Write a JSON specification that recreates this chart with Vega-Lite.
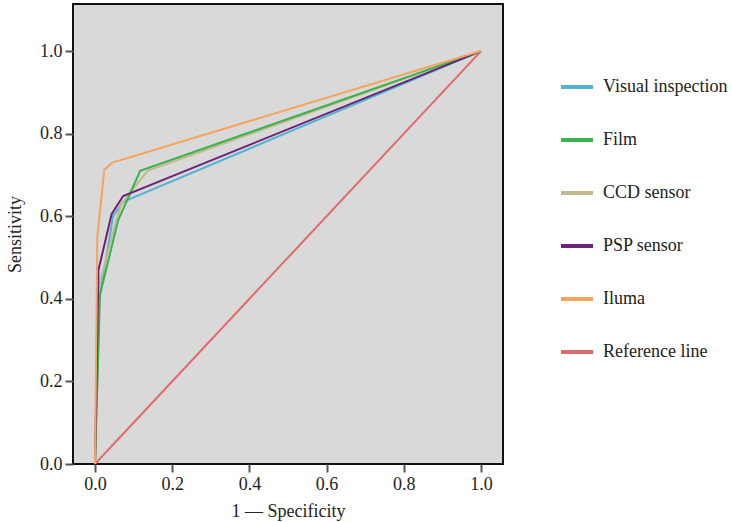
{
  "$schema": "https://vega.github.io/schema/vega-lite/v6.json",
  "width": 430,
  "height": 460,
  "autosize": {"type": "none"},
  "padding": {"left": 73, "top": 4, "right": 229, "bottom": 58},
  "background": "white",
  "config": {
    "view": {"fill": "#d9d9d9", "stroke": "#111111", "strokeWidth": 2},
    "font": "Liberation Serif",
    "axis": {
      "labelFont": "Liberation Serif",
      "titleFont": "Liberation Serif",
      "labelFontSize": 18,
      "titleFontSize": 18,
      "titleFontWeight": "normal",
      "labelColor": "#222222",
      "titleColor": "#222222",
      "domain": false,
      "grid": false,
      "tickColor": "#555555",
      "tickWidth": 2,
      "tickSize": 8,
      "labelPadding": 3
    },
    "legend": {
      "labelFont": "Liberation Serif",
      "labelFontSize": 18,
      "labelColor": "#222222"
    }
  },
  "data": {
    "values": [
      {"series": "Reference line", "o": 0, "x": 0, "y": 0},
      {"series": "Reference line", "o": 1, "x": 1, "y": 1},
      {"series": "Visual inspection", "o": 0, "x": 0, "y": 0},
      {"series": "Visual inspection", "o": 1, "x": 0.011, "y": 0.40},
      {"series": "Visual inspection", "o": 2, "x": 0.047, "y": 0.60},
      {"series": "Visual inspection", "o": 3, "x": 0.073, "y": 0.635},
      {"series": "Visual inspection", "o": 4, "x": 1, "y": 1},
      {"series": "CCD sensor", "o": 0, "x": 0, "y": 0},
      {"series": "CCD sensor", "o": 1, "x": 0.01, "y": 0.43},
      {"series": "CCD sensor", "o": 2, "x": 0.055, "y": 0.59},
      {"series": "CCD sensor", "o": 3, "x": 0.069, "y": 0.631},
      {"series": "CCD sensor", "o": 4, "x": 0.136, "y": 0.71},
      {"series": "CCD sensor", "o": 5, "x": 1, "y": 1},
      {"series": "Film", "o": 0, "x": 0, "y": 0},
      {"series": "Film", "o": 1, "x": 0.013, "y": 0.41},
      {"series": "Film", "o": 2, "x": 0.06, "y": 0.59},
      {"series": "Film", "o": 3, "x": 0.117, "y": 0.71},
      {"series": "Film", "o": 4, "x": 1, "y": 1},
      {"series": "PSP sensor", "o": 0, "x": 0, "y": 0},
      {"series": "PSP sensor", "o": 1, "x": 0.009, "y": 0.47},
      {"series": "PSP sensor", "o": 2, "x": 0.043, "y": 0.605},
      {"series": "PSP sensor", "o": 3, "x": 0.073, "y": 0.649},
      {"series": "PSP sensor", "o": 4, "x": 1, "y": 1},
      {"series": "Iluma", "o": 0, "x": 0, "y": 0},
      {"series": "Iluma", "o": 1, "x": 0.006, "y": 0.55},
      {"series": "Iluma", "o": 2, "x": 0.024, "y": 0.712},
      {"series": "Iluma", "o": 3, "x": 0.045, "y": 0.73},
      {"series": "Iluma", "o": 4, "x": 1, "y": 1}
    ]
  },
  "mark": {"type": "line", "strokeWidth": 2, "clip": true},
  "encoding": {
    "x": {
      "field": "x",
      "type": "quantitative",
      "scale": {"domain": [-0.057, 1.057], "nice": false, "zero": false},
      "axis": {"values": [0, 0.2, 0.4, 0.6, 0.8, 1.0], "format": ".1f", "title": "1 — Specificity", "titlePadding": 9}
    },
    "y": {
      "field": "y",
      "type": "quantitative",
      "scale": {"domain": [0, 1.114], "nice": false},
      "axis": {"values": [0, 0.2, 0.4, 0.6, 0.8, 1.0], "format": ".1f", "title": "Sensitivity", "titlePadding": 15}
    },
    "color": {
      "field": "series",
      "type": "nominal",
      "scale": {
        "domain": ["Visual inspection", "Film", "CCD sensor", "PSP sensor", "Iluma", "Reference line"],
        "range": ["#52b4d2", "#3cb24c", "#c4b88e", "#6b2478", "#f4a45c", "#e06a6a"]
      },
      "legend": {
        "title": null,
        "orient": "none",
        "legendX": 486,
        "legendY": 65,
        "symbolType": "stroke",
        "symbolSize": 1024,
        "symbolStrokeWidth": 4,
        "labelOffset": 8,
        "rowPadding": 26
      }
    },
    "order": {"field": "o", "type": "quantitative"},
    "detail": {"field": "series"}
  }
}
